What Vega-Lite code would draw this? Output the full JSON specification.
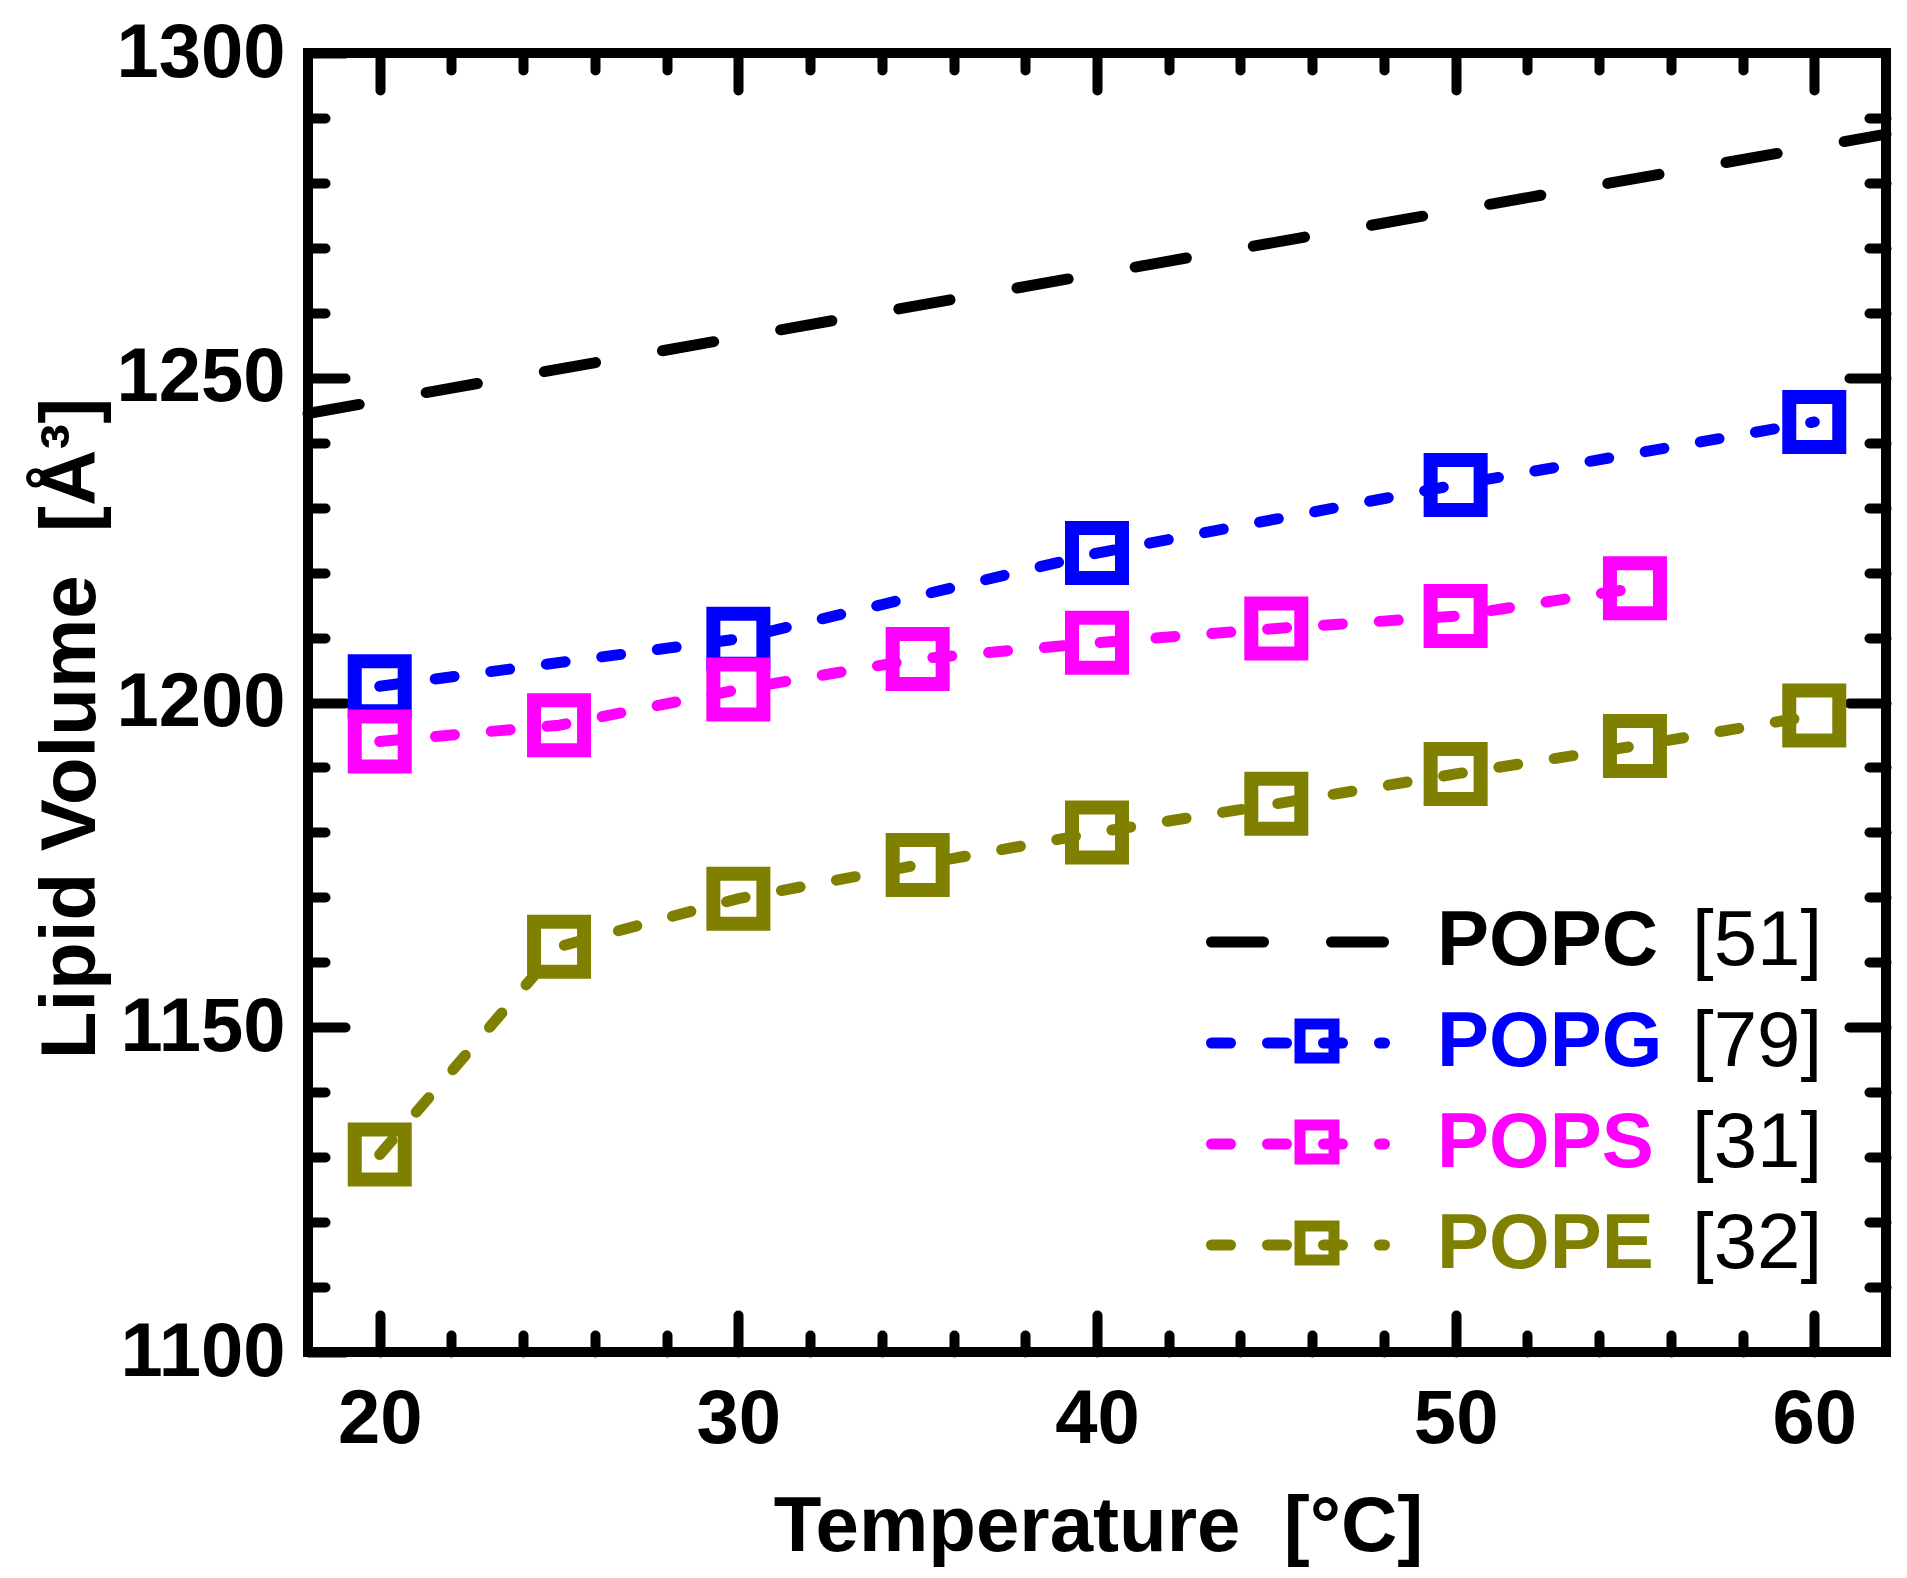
{
  "$schema": "https://vega.github.io/schema/vega-lite/v6.json",
  "width": 1578,
  "height": 1299,
  "autosize": {"type": "none"},
  "padding": {"left": 308, "top": 53, "right": 21, "bottom": 226},
  "background": "white",
  "data": {
    "values": [
      {"series": "POPC", "ref": "[51]", "t": 18, "v": 1244.5},
      {"series": "POPC", "ref": "[51]", "t": 62, "v": 1287.5},
      {"series": "POPG", "ref": "[79]", "t": 20, "v": 1202.5},
      {"series": "POPG", "ref": "[79]", "t": 30, "v": 1209.8},
      {"series": "POPG", "ref": "[79]", "t": 40, "v": 1223.0},
      {"series": "POPG", "ref": "[79]", "t": 50, "v": 1233.5},
      {"series": "POPG", "ref": "[79]", "t": 60, "v": 1243.2},
      {"series": "POPS", "ref": "[31]", "t": 20, "v": 1194.0},
      {"series": "POPS", "ref": "[31]", "t": 25, "v": 1196.5},
      {"series": "POPS", "ref": "[31]", "t": 30, "v": 1202.0},
      {"series": "POPS", "ref": "[31]", "t": 35, "v": 1206.7},
      {"series": "POPS", "ref": "[31]", "t": 40, "v": 1209.2},
      {"series": "POPS", "ref": "[31]", "t": 45, "v": 1211.4},
      {"series": "POPS", "ref": "[31]", "t": 50, "v": 1213.3},
      {"series": "POPS", "ref": "[31]", "t": 55, "v": 1217.6},
      {"series": "POPE", "ref": "[32]", "t": 20, "v": 1130.4},
      {"series": "POPE", "ref": "[32]", "t": 25, "v": 1162.4},
      {"series": "POPE", "ref": "[32]", "t": 30, "v": 1169.8},
      {"series": "POPE", "ref": "[32]", "t": 35, "v": 1175.0},
      {"series": "POPE", "ref": "[32]", "t": 40, "v": 1180.0},
      {"series": "POPE", "ref": "[32]", "t": 45, "v": 1184.4},
      {"series": "POPE", "ref": "[32]", "t": 50, "v": 1189.0},
      {"series": "POPE", "ref": "[32]", "t": 55, "v": 1193.3},
      {"series": "POPE", "ref": "[32]", "t": 60, "v": 1198.0}
    ]
  },
  "config": {
    "view": {"stroke": "black", "strokeWidth": 10},
    "axis": {
      "domain": false,
      "grid": false,
      "tickColor": "black",
      "tickWidth": 10,
      "tickCap": "round",
      "labelFont": "Liberation Sans",
      "labelFontWeight": "bold",
      "labelFontSize": 76,
      "labelColor": "black",
      "labelOverlap": false,
      "labelFlush": false,
      "titleFont": "Liberation Sans",
      "titleFontWeight": "bold",
      "titleFontSize": 78,
      "titleColor": "black"
    }
  },
  "layer": [
    {
      "mark": {"type": "line", "strokeWidth": 11, "strokeCap": "round"},
      "encoding": {
        "x": {
          "field": "t", "type": "quantitative",
          "scale": {"domain": [18, 62], "nice": false, "zero": false},
          "axis": {
            "orient": "bottom", "values": [20, 30, 40, 50, 60],
            "offset": -37, "tickSize": 37, "labelPadding": 30,
            "title": "Temperature\u00a0 [°C]",
            "titleX": 790, "titleY": 235, "titleBaseline": "alphabetic", "titleAlign": "center"
          }
        },
        "y": {
          "field": "v", "type": "quantitative",
          "scale": {"domain": [1100, 1300], "nice": false, "zero": false},
          "axis": {
            "orient": "left", "values": [1100, 1150, 1200, 1250, 1300], "format": "d",
            "offset": -37, "tickSize": 37, "labelPadding": 23,
            "title": "Lipid Volume\u00a0 [Å³]",
            "titleX": -251, "titleY": 675, "titleAngle": 270, "titleBaseline": "alphabetic", "titleAlign": "center"
          }
        },
        "color": {
          "field": "series", "type": "nominal",
          "scale": {"domain": ["POPC", "POPG", "POPS", "POPE"], "range": ["#000000", "#0000ff", "#ff00ff", "#808000"]},
          "legend": {
            "orient": "none", "legendX": 898, "legendY": 849, "title": null, "padding": 0,
            "symbolType": "stroke", "symbolSize": 29929, "symbolStrokeWidth": 11,
            "labelOffset": 47, "labelFont": "Liberation Sans", "labelFontWeight": "bold", "labelFontSize": 78, "labelLimit": 400,
            "clipHeight": 80, "rowPadding": 21,
            "encode": {
              "labels": {"update": {"fill": {"scale": "color", "field": "value"}}},
              "symbols": {"update": {"strokeCap": {"value": "round"}}}
            }
          }
        },
        "strokeDash": {
          "field": "series", "type": "nominal",
          "scale": {"domain": ["POPC", "POPG", "POPS", "POPE"], "range": [[52, 68], [19, 37], [19, 37], [19, 37]]},
          "legend": {
            "orient": "none", "legendX": 898, "legendY": 849, "title": null, "padding": 0,
            "symbolType": "stroke", "symbolSize": 29929, "symbolStrokeWidth": 11,
            "labelOffset": 47, "labelFont": "Liberation Sans", "labelFontWeight": "bold", "labelFontSize": 78, "labelLimit": 400,
            "clipHeight": 80, "rowPadding": 21
          }
        },
        "opacity": {
          "field": "ref", "type": "ordinal",
          "scale": {"type": "ordinal", "domain": ["[51]", "[79]", "[31]", "[32]"], "range": [1, 1, 1, 1]},
          "legend": {
            "orient": "none", "legendX": 1306, "legendY": 849, "title": null, "padding": 0,
            "symbolType": "circle", "symbolSize": 0, "symbolStrokeWidth": 0, "symbolOpacity": 0,
            "labelOffset": 0, "labelFont": "Liberation Sans", "labelFontWeight": "normal", "labelFontSize": 78, "labelColor": "black", "labelLimit": 400,
            "clipHeight": 80, "rowPadding": 21
          }
        }
      }
    },
    {
      "transform": [{"filter": "datum.series !== 'POPC'"}],
      "mark": {"type": "point", "shape": "square", "filled": false, "size": 2500, "strokeWidth": 14, "opacity": 1},
      "encoding": {
        "x": {
          "field": "t", "type": "quantitative",
          "scale": {"domain": [18, 62], "nice": false, "zero": false},
          "axis": {
            "orient": "bottom", "values": [22, 24, 26, 28, 32, 34, 36, 38, 42, 44, 46, 48, 52, 54, 56, 58],
            "offset": -17, "tickSize": 17, "labels": false, "title": null
          }
        },
        "y": {
          "field": "v", "type": "quantitative",
          "scale": {"domain": [1100, 1300], "nice": false, "zero": false},
          "axis": {
            "orient": "left", "values": [1110, 1120, 1130, 1140, 1160, 1170, 1180, 1190, 1210, 1220, 1230, 1240, 1260, 1270, 1280, 1290],
            "offset": -17, "tickSize": 17, "labels": false, "title": null
          }
        },
        "stroke": {
          "field": "series", "type": "nominal",
          "scale": {"domain": ["POPG", "POPS", "POPE"], "range": ["#0000ff", "#ff00ff", "#808000"]},
          "legend": {
            "orient": "none", "legendX": 970, "legendY": 948, "title": null, "padding": 0,
            "symbolType": "square", "symbolSize": 1156, "symbolStrokeWidth": 11, "symbolFillColor": "transparent",
            "labelExpr": "'\u00a0'", "labelFont": "Liberation Sans", "labelFontWeight": "bold", "labelFontSize": 78, "labelLimit": 400,
            "clipHeight": 80, "rowPadding": 21
          }
        }
      }
    },
    {
      "mark": {"type": "point", "opacity": 0},
      "encoding": {
        "x": {
          "field": "t", "type": "quantitative",
          "scale": {"domain": [18, 62], "nice": false, "zero": false},
          "axis": {"orient": "top", "values": [20, 30, 40, 50, 60], "offset": -37, "tickSize": 37, "labels": false, "title": null}
        },
        "y": {
          "field": "v", "type": "quantitative",
          "scale": {"domain": [1100, 1300], "nice": false, "zero": false},
          "axis": {"orient": "right", "values": [1150, 1200, 1250], "offset": -37, "tickSize": 37, "labels": false, "title": null}
        }
      }
    },
    {
      "mark": {"type": "point", "opacity": 0},
      "encoding": {
        "x": {
          "field": "t", "type": "quantitative",
          "scale": {"domain": [18, 62], "nice": false, "zero": false},
          "axis": {"orient": "top", "values": [22, 24, 26, 28, 32, 34, 36, 38, 42, 44, 46, 48, 52, 54, 56, 58], "offset": -17, "tickSize": 17, "labels": false, "title": null}
        },
        "y": {
          "field": "v", "type": "quantitative",
          "scale": {"domain": [1100, 1300], "nice": false, "zero": false},
          "axis": {"orient": "right", "values": [1110, 1120, 1130, 1140, 1160, 1170, 1180, 1190, 1210, 1220, 1230, 1240, 1260, 1270, 1280, 1290], "offset": -17, "tickSize": 17, "labels": false, "title": null}
        }
      }
    }
  ],
  "resolve": {"axis": {"x": "independent", "y": "independent"}}
}
